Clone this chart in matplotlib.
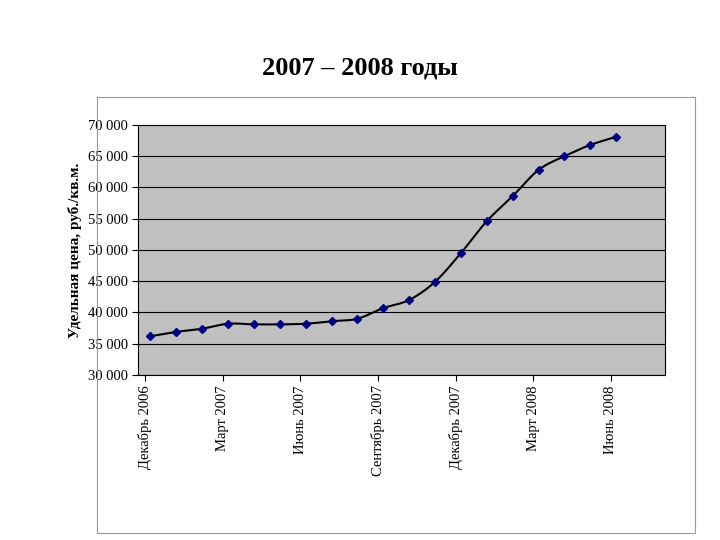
import numpy as np
import matplotlib
matplotlib.use("Agg")
import matplotlib.pyplot as plt
from matplotlib.patches import Rectangle
from matplotlib.ticker import FuncFormatter

plt.rcParams['font.family'] = ['Liberation Serif', 'DejaVu Serif']

# months counted from December 2006
months = np.arange(19) + 0.2
prices = [36200, 36900, 37400, 38200, 38100, 38100, 38200, 38600, 39000, 40700,
          42000, 44900, 49500, 54600, 58600, 62800, 65000, 66800, 68100]
tick_pos = [0, 3, 6, 9, 12, 15, 18]
tick_labels = ['Декабрь 2006', 'Март 2007', 'Июнь 2007', 'Сентябрь 2007',
               'Декабрь 2007', 'Март 2008', 'Июнь 2008']


def smooth(x, y, n=20):
  # catmull-rom curve through the points, like excel's smoothed line
  x = np.asarray(x, float)
  y = np.asarray(y, float)
  px = np.concatenate([[2 * x[0] - x[1]], x, [2 * x[-1] - x[-2]]])
  py = np.concatenate([[2 * y[0] - y[1]], y, [2 * y[-1] - y[-2]]])
  xs, ys = [], []
  t = np.linspace(0, 1, n, endpoint=False)
  for i in range(1, len(px) - 2):
    for p, out in ((px, xs), (py, ys)):
      p0, p1, p2, p3 = p[i - 1], p[i], p[i + 1], p[i + 2]
      out.extend(0.5 * (2 * p1 + (-p0 + p2) * t + (2 * p0 - 5 * p1 + 4 * p2 - p3) * t ** 2
                        + (-p0 + 3 * p1 - 3 * p2 + p3) * t ** 3))
  xs.append(x[-1])
  ys.append(y[-1])
  return xs, ys


fig = plt.figure(figsize=(7.2, 5.4), dpi=100)
fig.patches.append(Rectangle((97 / 720, 1 - 533 / 540), 598 / 720, 436 / 540,
                             transform=fig.transFigure, fill=False, edgecolor='#999999', lw=0.8))
fig.text(0.5, 1 - 68 / 540, '2007 – 2008 годы', ha='center', va='center',
         fontsize=19, fontweight='bold')

ax = fig.add_axes([0.192, 0.3056, 0.732, 0.463])
ax.set_facecolor('#C0C0C0')
ax.set_xlim(-0.27, 20.1)
ax.set_ylim(30000, 70000)
ax.set_yticks(range(30000, 70001, 5000))
ax.yaxis.set_major_formatter(FuncFormatter(lambda v, p: '{:,}'.format(int(v)).replace(',', ' ')))
ax.grid(axis='y', color='black', lw=0.8)
ax.set_axisbelow(True)
ax.set_xticks(tick_pos)
ax.set_xticklabels(tick_labels, rotation=90)
ax.tick_params(labelsize=10.5, direction='out', length=4)
for s in ax.spines.values():
  s.set_color('black')

sx, sy = smooth(months, prices)
ax.plot(sx, sy, color='black', lw=1.5, zorder=3)
ax.plot(months, prices, 'D', color='#000080', markersize=4.5, zorder=4)
ax.set_ylabel('Удельная цена, руб./кв.м.', fontsize=11, fontweight='bold')

plt.savefig('out.png')
